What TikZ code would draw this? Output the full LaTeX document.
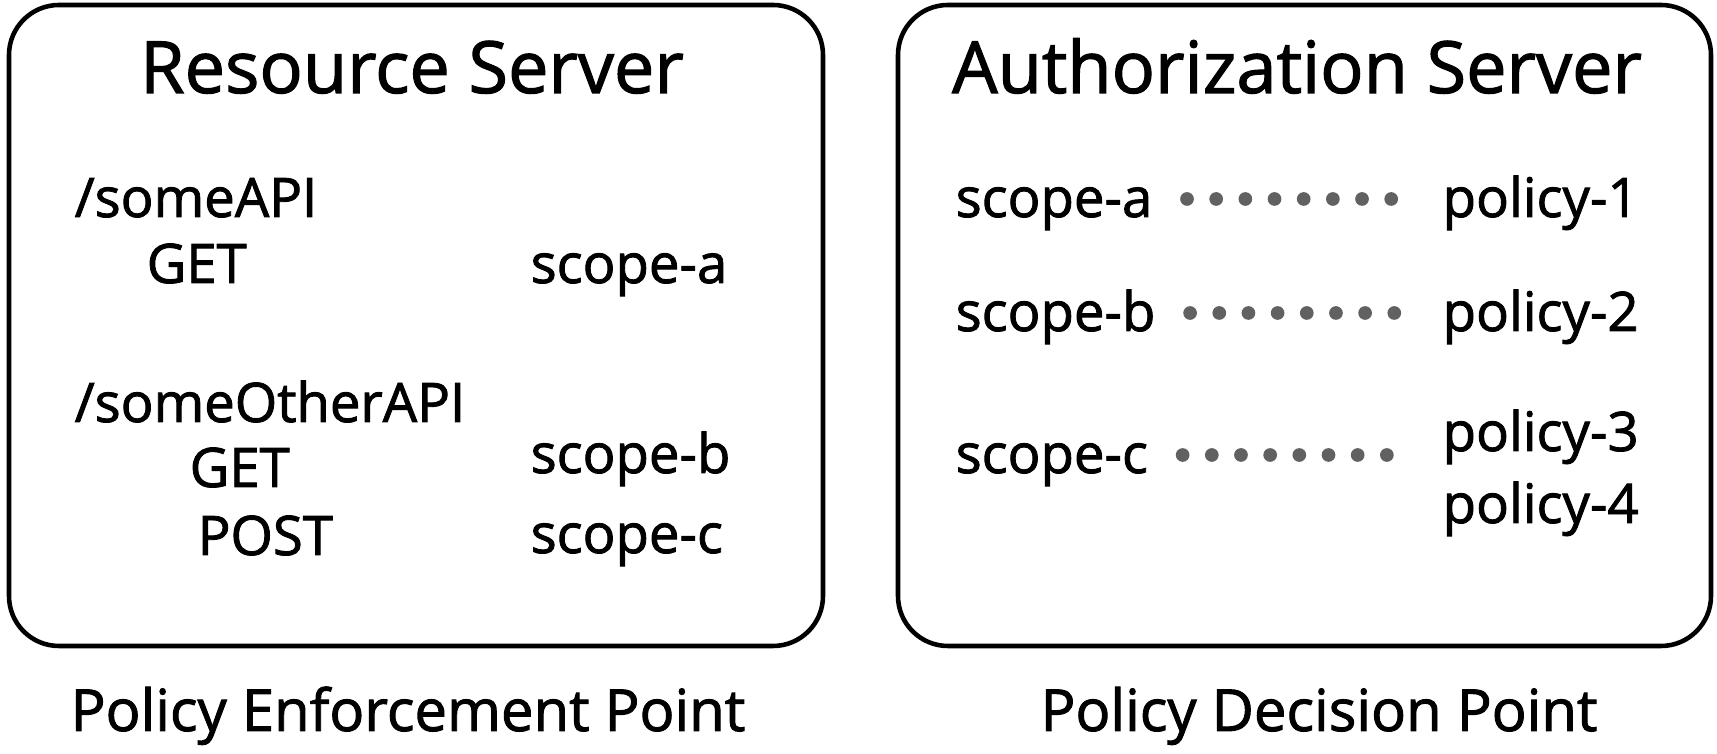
\documentclass[tikz,border=0pt]{standalone}
\usepackage{fontspec}
\setmainfont{Open Sans}[FakeBold=1.6]
\usetikzlibrary{positioning, calc}

\tikzset{
  server/.style={draw, line width=1.3pt, rounded corners=0.5cm},
  titletext/.style={font=\fontsize{20.5}{24}\selectfont, anchor=base, inner sep=0pt},
  item/.style={font=\fontsize{15.5}{18}\selectfont, anchor=base west, inner sep=0pt,
    text height=0.36cm, text depth=0pt},
  caption/.style={font=\fontsize{16.5}{20}\selectfont, anchor=base, inner sep=0pt},
  mapsto/.style={draw=black!62, line width=3.9pt, line cap=round,
    dash pattern=on 0pt off 8.3pt, shorten <=0.34cm, shorten >=0.46cm}
}

\begin{document}
\begin{tikzpicture}
\useasboundingbox (0,0) rectangle (17.17,7.54);

% Resource Server
\draw[server] (0.09,7.49) rectangle (8.23,1.08);
\node[titletext] (rs) at (4.12,6.61) {Resource Server};
\node[item] (api1) at (0.74,5.37) {/someAPI};
\node[item] (get1) at (1.46,4.71) {GET};
\node[item] (rsa) at (5.30,4.71) {scope-a};
\node[item] (api2) at (0.74,3.32) {/someOtherAPI};
\node[item] (get2) at (1.89,2.67) {GET};
\node[item] (rsb) at (5.30,2.81) {scope-b};
\node[item] (post) at (1.97,1.99) {POST};
\node[item] (rsc) at (5.30,2.01) {scope-c};
\node[caption] (pep) at (4.08,0.23) {Policy Enforcement Point};

% Authorization Server
\draw[server] (8.98,7.49) rectangle (17.11,1.08);
\node[titletext] (as) at (12.97,6.61) {Authorization Server};
\node[item] (asa) at (9.55,5.37) {scope-a};
\node[item] (pol1) at (14.42,5.37) {policy-1};
\node[item] (asb) at (9.55,4.23) {scope-b};
\node[item] (pol2) at (14.42,4.23) {policy-2};
\node[item] (asc) at (9.55,2.81) {scope-c};
\node[item] (pol3) at (14.42,3.03) {policy-3};
\node[item] (pol4) at (14.42,2.31) {policy-4};
\node[caption] (pdp) at (13.19,0.23) {Policy Decision Point};

% scope to policy
\draw[mapsto] (asa.east) -- (asa.east -| pol1.west);
\draw[mapsto] (asb.east) -- (asb.east -| pol2.west);
\draw[mapsto] (asc.east) -- (asc.east -| pol3.west);
\end{tikzpicture}
\end{document}
